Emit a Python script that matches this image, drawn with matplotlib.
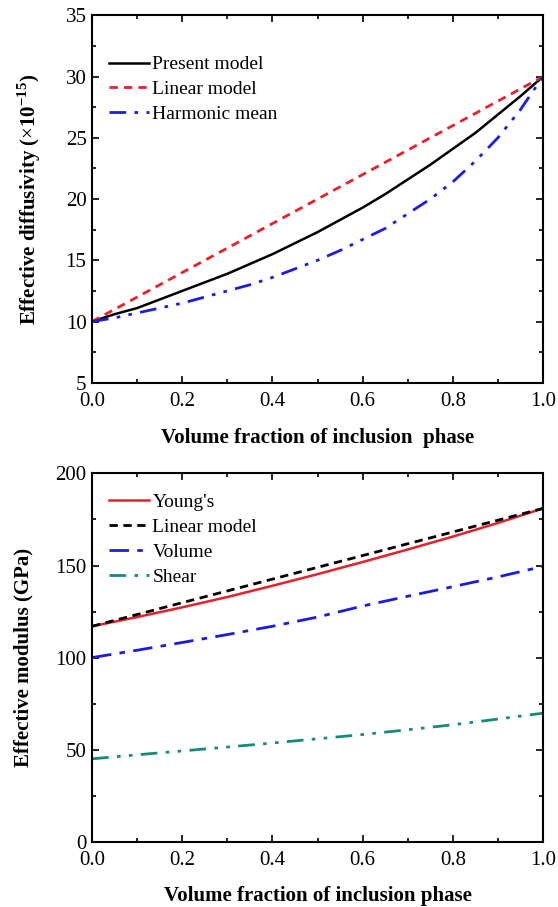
import matplotlib.pyplot as plt
import numpy as np
from matplotlib.ticker import MultipleLocator

# 1. Input
x = np.array([0.0, 0.05, 0.1, 0.15, 0.2, 0.25, 0.3, 0.35, 0.4, 0.45, 0.5,
              0.55, 0.6, 0.65, 0.7, 0.75, 0.8, 0.85, 0.9, 0.95, 1.0])
present = np.array([10.0, 10.6, 11.1, 11.8, 12.5, 13.2, 13.9, 14.7, 15.5, 16.4, 17.3,
                    18.3, 19.3, 20.4, 21.6, 22.8, 24.1, 25.4, 26.9, 28.4, 30.0])
linear_d = np.array([10.0, 30.0])
harmonic = np.array([10.0, 10.3, 10.7, 11.1, 11.5, 12.0, 12.5, 13.0, 13.6, 14.3, 15.0,
                     15.8, 16.7, 17.6, 18.8, 20.0, 21.4, 23.1, 25.0, 27.3, 30.0])

x2 = np.array([0.0, 0.1, 0.2, 0.3, 0.4, 0.5, 0.6, 0.7, 0.8, 0.9, 1.0])
youngs = np.array([117.0, 122.0, 127.3, 132.9, 139.0, 145.3, 151.9, 158.7, 165.7, 173.1, 181.0])
linear_m = np.array([117.0, 181.0])
volume = np.array([100.0, 104.0, 108.2, 112.5, 117.0, 122.0, 128.0, 133.3, 138.5, 143.8, 149.5])
shear = np.array([45.0, 47.2, 49.3, 51.4, 53.6, 55.9, 58.2, 60.8, 63.5, 66.6, 69.8])

# 3. Output
plt.rcParams['font.family'] = ['Liberation Serif', 'DejaVu Serif']
plt.rcParams['mathtext.fontset'] = 'custom'
plt.rcParams['mathtext.rm'] = 'Liberation Serif'
plt.rcParams['mathtext.bf'] = 'Liberation Serif:bold'

fig = plt.figure(figsize=(5.58, 9.07), dpi=100)
ax1 = fig.add_axes([0.165, 0.578, 0.808, 0.405])
ax2 = fig.add_axes([0.165, 0.072, 0.808, 0.406])

ax1.plot(x, present, color='black', lw=1.8, label='Present model')
ax1.plot([0, 1], linear_d, color='#e8202a', lw=2.0, ls=(0, (3, 2.2)), label='Linear model')
ax1.plot(x, harmonic, color='#1c1ce0', lw=2.0, ls=(0, (6, 3, 1.3, 3, 1.3, 3)), label='Harmonic mean')
ax1.set_xlim(0, 1)
ax1.set_ylim(5, 35)
ax1.yaxis.set_major_locator(MultipleLocator(5))
ax1.yaxis.set_minor_locator(MultipleLocator(2.5))
ax1.set_xlabel('Volume fraction of inclusion  phase', fontsize=15, fontweight='bold', labelpad=12)
ax1.set_ylabel(r'Effective diffusivity ($\times$10$^{\mathbf{-15}}$)', fontsize=15, fontweight='bold', labelpad=16)
ax1.legend(loc='upper left', bbox_to_anchor=(0.0, 0.935), frameon=False, fontsize=14,
           handlelength=2.1, handletextpad=0.15, labelspacing=0.37, borderaxespad=0.45)

ax2.plot(x2, youngs, color='#e8202a', lw=1.8, label="Young's")
ax2.plot([0, 1], linear_m, color='black', lw=2.0, ls=(0, (3, 2)), label='Linear model')
ax2.plot(x2, volume, color='#1c1ce0', lw=2.0, ls=(0, (7, 3, 2, 3)), label='Volume')
ax2.plot(x2, shear, color='#168a7c', lw=2.0, ls=(0, (6, 3, 1.3, 3, 1.3, 3)), label='Shear')
ax2.set_xlim(0, 1)
ax2.set_ylim(0, 200)
ax2.yaxis.set_major_locator(MultipleLocator(50))
ax2.yaxis.set_minor_locator(MultipleLocator(25))
ax2.set_xlabel('Volume fraction of inclusion phase', fontsize=15, fontweight='bold', labelpad=11)
ax2.set_ylabel('Effective modulus (GPa)', fontsize=15, fontweight='bold', labelpad=16)
ax2.legend(loc='upper left', bbox_to_anchor=(0.0, 0.99), frameon=False, fontsize=14,
           handlelength=2.1, handletextpad=0.15, labelspacing=0.37, borderaxespad=0.45)

for ax in (ax1, ax2):
    ax.xaxis.set_major_locator(MultipleLocator(0.2))
    ax.xaxis.set_minor_locator(MultipleLocator(0.1))
    ax.xaxis.set_major_formatter(plt.FormatStrFormatter('%.1f'))
    ax.tick_params(which='both', direction='in', top=True, right=True, width=1.2)
    ax.tick_params(which='major', length=5, labelsize=15)
    ax.tick_params(axis='x', which='major', pad=7)
    ax.tick_params(axis='y', which='major', pad=4)
    ax.tick_params(which='minor', length=3)
    for s in ax.spines.values():
        s.set_linewidth(1.5)

fig.savefig('out.png', dpi=100)
